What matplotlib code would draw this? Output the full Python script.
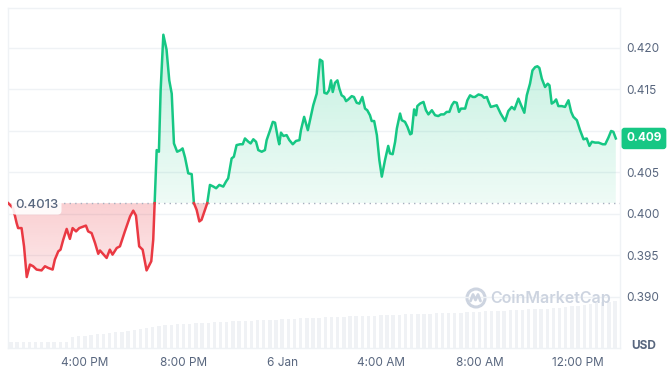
import numpy as np
import matplotlib
matplotlib.use('Agg')
import matplotlib.pyplot as plt
from matplotlib.colors import to_rgb
from matplotlib.path import Path
from matplotlib.patches import PathPatch, Circle
from matplotlib.lines import Line2D
import matplotlib.transforms as mtransforms

plt.rcParams['font.family'] = ['Inter', 'DejaVu Sans']

# Du lieu: gio tinh tu 12:00 PM ngay 5 Jan
hours = [0.89, 1.09, 1.23, 1.29, 1.43, 1.53, 1.64, 1.77, 1.90, 2.04, 2.24, 2.38, 2.51, 2.69, 2.78, 2.92,
         3.01, 3.12, 3.26, 3.39, 3.50, 3.64, 3.77, 4.04, 4.13, 4.27, 4.41, 4.54, 4.61, 4.88, 5.01, 5.12,
         5.29, 5.42, 5.62, 5.83, 5.96, 6.07, 6.20, 6.34, 6.50, 6.69, 6.77, 6.91, 7.00, 7.07, 7.18, 7.31,
         7.42, 7.52, 7.61, 7.74, 7.88, 7.96, 8.06, 8.19, 8.33, 8.42, 8.53, 8.64, 8.73, 8.87, 8.96, 9.07,
         9.21, 9.32, 9.45, 9.61, 9.72, 9.81, 9.95, 10.04, 10.15, 10.29, 10.40, 10.49, 10.63, 10.72, 10.83, 10.94,
         11.03, 11.17, 11.30, 11.37, 11.51, 11.62, 11.71, 11.84, 11.88, 11.95, 12.05, 12.18, 12.29, 12.43, 12.56, 12.70,
         12.76, 12.89, 13.04, 13.17, 13.26, 13.40, 13.53, 13.63, 13.71, 13.81, 13.90, 13.98, 14.05, 14.14, 14.24, 14.32,
         14.41, 14.51, 14.59, 14.68, 14.82, 14.91, 15.02, 15.13, 15.25, 15.36, 15.45, 15.56, 15.63, 15.73, 15.84, 15.94,
         16.04, 16.17, 16.30, 16.37, 16.48, 16.58, 16.65, 16.78, 16.85, 16.98, 17.08, 17.19, 17.25, 17.35, 17.43, 17.48,
         17.59, 17.73, 17.83, 17.93, 18.07, 18.20, 18.33, 18.44, 18.56, 18.67, 18.78, 18.88, 18.97, 19.08, 19.17, 19.25,
         19.42, 19.51, 19.62, 19.73, 19.82, 19.96, 20.09, 20.19, 20.30, 20.36, 20.46, 20.59, 20.70, 20.86, 21.04, 21.17,
         21.31, 21.42, 21.58, 21.69, 21.82, 21.92, 22.05, 22.15, 22.26, 22.35, 22.43, 22.53, 22.66, 22.77, 22.84, 22.93,
         23.03, 23.11, 23.20, 23.34, 23.47, 23.61, 23.72, 23.81, 23.95, 24.08, 24.22, 24.35, 24.46, 24.56, 24.69, 24.83,
         25.00, 25.10, 25.23, 25.34, 25.43, 25.53]
price = [0.4013, 0.4007, 0.3989, 0.3983, 0.3983, 0.3961, 0.3924, 0.3939, 0.3937, 0.3933, 0.3932, 0.3937, 0.3935, 0.3933, 0.3945, 0.3955,
         0.3957, 0.3969, 0.3982, 0.3970, 0.3983, 0.3979, 0.3983, 0.3986, 0.3979, 0.3977, 0.3965, 0.3952, 0.3956, 0.3947, 0.3957, 0.3951,
         0.3959, 0.3961, 0.3979, 0.3997, 0.4004, 0.3998, 0.3961, 0.3957, 0.3932, 0.3943, 0.3969, 0.4077, 0.4075, 0.4149, 0.4216, 0.4198,
         0.4161, 0.4145, 0.4085, 0.4075, 0.4077, 0.4079, 0.4068, 0.4049, 0.4048, 0.4013, 0.4005, 0.3991, 0.3993, 0.4005, 0.4013, 0.4035,
         0.4033, 0.4031, 0.4035, 0.4033, 0.4039, 0.4043, 0.4067, 0.4069, 0.4083, 0.4084, 0.4084, 0.4091, 0.4087, 0.4085, 0.4090, 0.4087,
         0.4077, 0.4075, 0.4077, 0.4089, 0.4101, 0.4111, 0.4110, 0.4089, 0.4084, 0.4098, 0.4094, 0.4095, 0.4089, 0.4084, 0.4088, 0.4089,
         0.4101, 0.4117, 0.4101, 0.4119, 0.4131, 0.4145, 0.4186, 0.4184, 0.4146, 0.4145, 0.4149, 0.4161, 0.4147, 0.4158, 0.4161, 0.4151,
         0.4143, 0.4141, 0.4136, 0.4138, 0.4142, 0.4141, 0.4134, 0.4133, 0.4141, 0.4127, 0.4125, 0.4119, 0.4112, 0.4112, 0.4095, 0.4065,
         0.4045, 0.4065, 0.4082, 0.4073, 0.4072, 0.4087, 0.4103, 0.4121, 0.4113, 0.4111, 0.4105, 0.4096, 0.4097, 0.4126, 0.4119, 0.4130,
         0.4133, 0.4135, 0.4125, 0.4120, 0.4125, 0.4119, 0.4118, 0.4120, 0.4120, 0.4123, 0.4123, 0.4131, 0.4135, 0.4134, 0.4123, 0.4127,
         0.4127, 0.4137, 0.4143, 0.4141, 0.4141, 0.4144, 0.4143, 0.4140, 0.4141, 0.4136, 0.4129, 0.4130, 0.4131, 0.4121, 0.4112, 0.4124,
         0.4129, 0.4126, 0.4139, 0.4131, 0.4122, 0.4143, 0.4157, 0.4173, 0.4177, 0.4178, 0.4176, 0.4163, 0.4153, 0.4157, 0.4155, 0.4133,
         0.4135, 0.4138, 0.4130, 0.4130, 0.4129, 0.4137, 0.4123, 0.4117, 0.4113, 0.4101, 0.4090, 0.4091, 0.4082, 0.4087, 0.4086, 0.4086,
         0.4084, 0.4084, 0.4092, 0.4100, 0.4099, 0.4091]
base_price = 0.4013
last_label = '0.409'

# Khoi luong (cot moi 15 phut, bat dau luc 1.0 gio)
vol_start, vol_step = 1.0, 0.25
volume = [6.0, 6.1, 6.0, 6.1, 6.2, 6.1, 6.2, 6.2, 6.3, 6.3,
          11.0, 11.6, 12.3, 13.0, 13.6, 14.2, 14.9, 15.6, 16.4, 17.2, 18.0, 18.9, 19.8, 20.7, 21.7, 22.8,
          23.2, 23.6, 24.0, 24.4, 24.8, 25.1, 25.5, 25.8,
          26.1, 26.3, 26.6, 26.9, 27.1, 27.4, 27.7, 27.9, 28.2, 28.5, 28.8, 29.1, 29.4, 29.7,
          30.0, 30.2, 30.4, 30.7, 30.9, 31.1, 31.3, 31.6, 31.8, 32.0, 32.3, 32.5, 32.7, 33.0,
          33.2, 33.4, 33.6, 33.8, 34.0, 34.2, 34.4, 34.6, 34.9, 35.1, 35.3, 35.5, 35.7, 36.0,
          36.3, 36.6, 36.9, 37.2, 37.5, 37.8, 38.1, 38.3, 38.6, 38.9, 39.2, 39.4, 39.7, 40.0,
          40.8, 41.6, 42.4, 43.2, 44.0, 44.8, 45.6, 46.3, 47.0]

xtick_pos = [4, 8, 12, 16, 20, 24]
xtick_labels = ['4:00 PM', '8:00 PM', '6 Jan', '4:00 AM', '8:00 AM', '12:00 PM']
ytick_pos = [0.390, 0.395, 0.400, 0.405, 0.410, 0.415, 0.420]

GREEN = '#16c784'
RED = '#ea3943'
GREY = '#58667e'
LIGHT = '#eff2f5'

xlim = (0.88, 25.70)
ylim = (0.38385, 0.42482)

fig = plt.figure(figsize=(6.72, 3.70), dpi=100)
ax = fig.add_axes([8/672, 22/370, 612/672, 340/370])
ax2 = ax.twinx()
ax.set_zorder(ax2.get_zorder() + 1)
ax.patch.set_visible(False)

# Cot khoi luong
vx = vol_start + vol_step * np.arange(len(volume))
ax2.bar(vx, volume, width=vol_step * 0.55, color='#f0f2f5', linewidth=0)
ax2.set_ylim(0, max(volume) * 340 / 47)
ax2.set_yticks([])
for s in ax2.spines.values():
    s.set_visible(False)

# Chen diem cat duong co so
t = np.array(hours)
p = np.array(price)
tt, pp = [t[0]], [p[0]]
for i in range(1, len(t)):
    d0, d1 = p[i-1] - base_price, p[i] - base_price
    if d0 * d1 < 0:
        tt.append(t[i-1] + (t[i] - t[i-1]) * d0 / (d0 - d1))
        pp.append(base_price)
    tt.append(t[i])
    pp.append(p[i])
tt = np.array(tt)
pp = np.array(pp)


def grad_fill(coll, color, a_top, a_bot, y_top, y_bot):
    path = Path.make_compound_path(*coll.get_paths())
    patch = PathPatch(path, transform=ax.transData, fc='none', ec='none')
    ax.add_patch(patch)
    img = np.zeros((256, 1, 4))
    img[:, :, :3] = to_rgb(color)
    img[:, 0, 3] = np.linspace(a_top, a_bot, 256)
    im = ax.imshow(img, aspect='auto', extent=[xlim[0], xlim[1], y_bot, y_top],
                   origin='upper', zorder=1, interpolation='bilinear')
    im.set_clip_path(patch)
    coll.remove()


cg = ax.fill_between(tt, pp, base_price, where=pp >= base_price, interpolate=True)
grad_fill(cg, GREEN, 0.26, 0.07, 0.4216, base_price)
cr = ax.fill_between(tt, pp, base_price, where=pp <= base_price, interpolate=True)
grad_fill(cr, RED, 0.24, 0.12, base_price, 0.3924)

ax.axhline(base_price, color='#a7afbf', lw=1, linestyle=(0, (1, 3)), zorder=2)

green_line = np.where(pp >= base_price, pp, np.nan)
red_line = np.where(pp <= base_price, pp, np.nan)
ax.plot(tt, green_line, color=GREEN, lw=1.8, solid_joinstyle='round', zorder=3)
ax.plot(tt, red_line, color=RED, lw=1.8, solid_joinstyle='round', zorder=3)

ax.set_xlim(*xlim)
ax.set_ylim(*ylim)

# Truc va luoi (nhan 0.410 bi o gia hien tai che)
ax.yaxis.tick_right()
ax.set_yticks(ytick_pos)
ax.set_yticklabels(['' if abs(v - 0.410) < 1e-9 else '%.3f' % v for v in ytick_pos])
ax.set_xticks(xtick_pos)
ax.set_xticklabels(xtick_labels)
ax.tick_params(axis='both', length=0, labelsize=8.5, labelcolor=GREY)
ax.tick_params(axis='y', pad=4.5)
ax.tick_params(axis='x', pad=6.5)
ax.grid(axis='y', color=LIGHT, lw=1)
ax.set_axisbelow(True)
for s in ax.spines.values():
    s.set_color(LIGHT)
    s.set_linewidth(1)

# Nhan gia
blend_r = mtransforms.blended_transform_factory(ax.transAxes, ax.transData)
ax.annotate(last_label, xy=(1, price[-1]), xycoords=blend_r, xytext=(4.5, 0),
            textcoords='offset points', ha='left', va='center', color='white',
            fontsize=8.5, fontweight='bold', annotation_clip=False, zorder=5,
            bbox=dict(boxstyle='round,pad=0.4,rounding_size=0.25', fc=GREEN, ec='none'))
ax.annotate('%.4f' % base_price, xy=(0, base_price), xycoords=blend_r, xytext=(5, -1.5),
            textcoords='offset points', ha='left', va='center', color=GREY,
            fontsize=9.5, fontweight='medium', zorder=5,
            bbox=dict(boxstyle='round,pad=0.25,rounding_size=0.3', fc='white', ec='none', alpha=0.9))

fig.text(644/672, 1 - 346/370, 'USD', ha='center', va='center', fontsize=8.5,
         fontweight='bold', color=GREY)

# Watermark
wm = '#cdd4e0'
fig.text(490/672, 1 - 298/370, 'CoinMarketCap', ha='left', va='center', fontsize=11.5,
         fontweight='semibold', color=wm)
cx, cy = 4.76, 3.70 - 2.98
fig.add_artist(Circle((cx, cy), 0.09, transform=fig.dpi_scale_trans, fill=False, ec=wm, lw=2.2))
wx = [cx - 0.055, cx - 0.03, cx - 0.005, cx + 0.02, cx + 0.045]
wy = [cy - 0.03, cy + 0.035, cy - 0.02, cy + 0.035, cy - 0.03]
fig.add_artist(Line2D(wx, wy, transform=fig.dpi_scale_trans, color=wm, lw=2.0,
                      solid_joinstyle='round', solid_capstyle='round'))

fig.savefig('out.png', dpi=100)
